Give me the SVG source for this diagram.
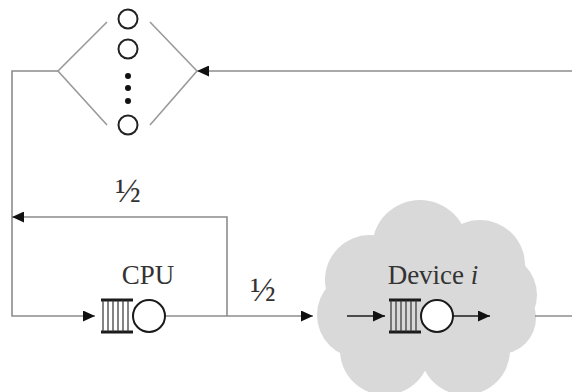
<svg xmlns="http://www.w3.org/2000/svg" width="572" height="392" viewBox="0 0 572 392">
<style>
.ln{fill:none;stroke:#8c8c8c;stroke-width:1.6}
.bk{fill:none;stroke:#1a1a1a;stroke-width:1.6}
.dia{fill:none;stroke:#9a9a9a;stroke-width:1.6}
.txt{font-family:"Liberation Serif","Times New Roman",serif;fill:#333;text-anchor:middle}
.cloud{fill:#d9d9d9}
.srv{fill:#fff;stroke:#1a1a1a;stroke-width:2}
.qh{stroke:#1a1a1a;stroke-width:3}
.qv{stroke:#333;stroke-width:1.2}
</style>
<defs>
<marker id="ah" markerWidth="12" markerHeight="11" refX="12" refY="5.5" orient="auto" markerUnits="userSpaceOnUse">
<path d="M0,0 L12,5.5 L0,11 Z" fill="#111"/>
</marker>
<g id="queue">
<line class="qh" x1="0" y1="0" x2="32" y2="0"/>
<line class="qh" x1="0" y1="32" x2="32" y2="32"/>
<line class="qv" x1="2" y1="0" x2="2" y2="32"/>
<line class="qv" x1="7" y1="0" x2="7" y2="32"/>
<line class="qv" x1="12" y1="0" x2="12" y2="32"/>
<line class="qv" x1="17" y1="0" x2="17" y2="32"/>
<line class="qv" x1="22" y1="0" x2="22" y2="32"/>
<line class="qv" x1="27" y1="0" x2="27" y2="32"/>
<circle class="srv" cx="48" cy="16" r="16"/>
</g>
</defs>

<g id="device-cloud">
<g class="cloud">
<circle cx="420" cy="248" r="48"/>
<circle cx="480" cy="265" r="45"/>
<circle cx="495" cy="295" r="42"/>
<circle cx="500" cy="318" r="36"/>
<circle cx="370" cy="280" r="45"/>
<circle cx="360" cy="315" r="43"/>
<circle cx="385" cy="350" r="45"/>
<circle cx="465" cy="350" r="45"/>
<circle cx="430" cy="305" r="62"/>
</g>
</g>

<g id="connectors">
<line class="ln" x1="572" y1="71" x2="197" y2="71" marker-end="url(#ah)"/>
<polyline class="ln" points="58,71 12,71 12,316 95,316" marker-end="url(#ah)"/>
<line class="ln" x1="165" y1="316" x2="313" y2="316" marker-end="url(#ah)"/>
<polyline class="ln" points="227,316 227,217 12,217" marker-end="url(#ah)"/>
<line class="bk" x1="347" y1="316" x2="385" y2="316" marker-end="url(#ah)"/>
<line class="bk" x1="453" y1="316" x2="490" y2="316" marker-end="url(#ah)"/>
<line class="ln" x1="535" y1="316" x2="572" y2="316"/>
</g>

<g id="delay-station">
<polyline class="dia" points="107,22 58,71 107,125"/>
<polyline class="dia" points="150,22 197,71 150,125"/>
<circle cx="128" cy="19" r="9.5" fill="none" stroke="#222" stroke-width="2"/>
<circle cx="128" cy="49" r="9.5" fill="none" stroke="#222" stroke-width="2"/>
<circle cx="128" cy="125" r="9.5" fill="none" stroke="#222" stroke-width="2"/>
<circle cx="128" cy="76" r="3" fill="#111"/>
<circle cx="128" cy="88" r="3" fill="#111"/>
<circle cx="128" cy="101" r="3" fill="#111"/>
</g>

<g id="cpu">
<use href="#queue" x="101" y="300"/>
<text class="txt" x="148" y="284" font-size="27">CPU</text>
</g>

<g id="device">
<use href="#queue" x="389" y="300"/>
<text class="txt" x="433" y="284" font-size="27">Device <tspan font-style="italic">i</tspan></text>
</g>

<g id="labels">
<text class="txt" x="128" y="202" font-size="34">½</text>
<text class="txt" x="263" y="301" font-size="34">½</text>
</g>
</svg>
